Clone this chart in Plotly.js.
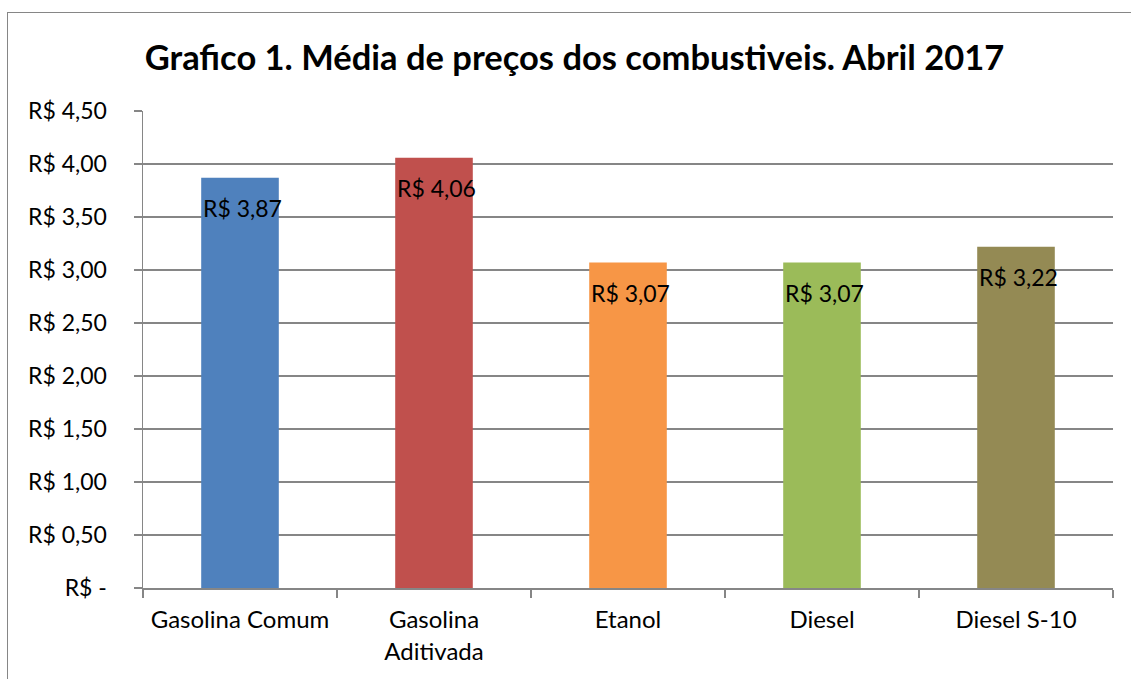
<!DOCTYPE html>
<html>
<head>
<meta charset="utf-8">
<script src="https://cdn.plot.ly/plotly-3.0.1.min.js"></script>
<style>
html,body{margin:0;padding:0;overflow:hidden;background:#fff;}
#wrap{position:relative;width:1131px;height:679px;}
#chart{width:1131px;height:679px;}
#frame{position:absolute;left:7px;top:12px;width:1200px;height:800px;border:1.5px solid #868686;pointer-events:none;}
</style>
</head>
<body>
<div id="wrap"><div id="chart"></div><div id="frame"></div></div>
<script>
const categories = ["Gasolina Comum", "Gasolina<br>Aditivada", "Etanol", "Diesel", "Diesel S-10"];
const prices = [3.87, 4.06, 3.07, 3.07, 3.22];
const priceLabels = ["R$ 3,87", "R$ 4,06", "R$ 3,07", "R$ 3,07", "R$ 3,22"];
const barColors = ["#4F81BD", "#C0504D", "#F79646", "#9BBB59", "#948A54"];
const yTickVals = [0, 0.5, 1, 1.5, 2, 2.5, 3, 3.5, 4, 4.5];
const yTickText = ["R$ -", "R$ 0,50", "R$ 1,00", "R$ 1,50", "R$ 2,00", "R$ 2,50", "R$ 3,00", "R$ 3,50", "R$ 4,00", "R$ 4,50"];

const FONT = "Lato, 'Open Sans', sans-serif";

const trace = {
  type: "bar",
  x: categories,
  y: prices,
  marker: {color: barColors},
  hoverinfo: "none"
};

const annotations = categories.map((c, i) => ({
  x: c, y: prices[i], xref: "x", yref: "y",
  text: priceLabels[i], showarrow: false,
  xanchor: "left", yanchor: "top", xshift: -39, yshift: -14,
  font: {family: FONT, size: 23, color: "#000"}
}));

const layout = {
  width: 1131, height: 679,
  margin: {l: 143, r: 18, t: 111, b: 91},
  paper_bgcolor: "rgba(0,0,0,0)",
  plot_bgcolor: "#fff",
  showlegend: false,
  bargap: 0.6,
  font: {family: FONT, size: 23, color: "#000"},
  title: {text: "<b>Grafico 1. Média de preços dos combustiveis. Abril 2017</b>",
          font: {family: FONT, size: 34.5, color: "#000"},
          x: 0.508, xanchor: "center", y: 0.915, yanchor: "middle"},
  xaxis: {
    type: "category",
    showgrid: false, zeroline: false,
    showline: true, linecolor: "#868686", linewidth: 1.5,
    ticks: "outside", ticklen: 8, tickcolor: "#868686", tickwidth: 1.5,
    tickson: "boundaries",
    tickfont: {family: FONT, size: 24, color: "#000"},
    ticklabelstandoff: 10,
    automargin: false
  },
  yaxis: {
    range: [0, 4.5],
    tickvals: yTickVals, ticktext: yTickText,
    showgrid: true, gridcolor: "#868686", gridwidth: 1.5,
    zeroline: false,
    showline: true, linecolor: "#868686", linewidth: 1.5,
    ticks: "outside", ticklen: 8, tickcolor: "#868686", tickwidth: 1.5,
    tickfont: {family: FONT, size: 23, color: "#000"},
    ticklabelstandoff: 22,
    automargin: false
  },
  annotations: annotations
};

Plotly.newPlot("chart", [trace], layout, {displayModeBar: false, staticPlot: true});
</script>
</body>
</html>
